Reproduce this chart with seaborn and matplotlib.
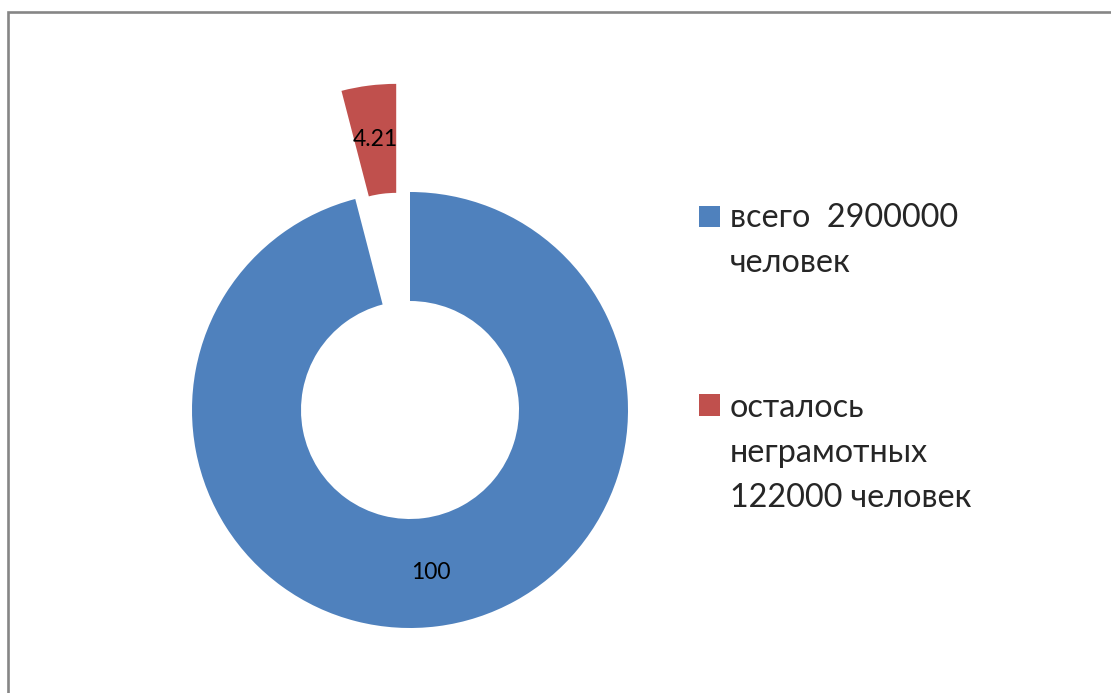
import matplotlib
matplotlib.use('Agg')
import matplotlib.pyplot as plt
import matplotlib.patches as mpatches
from matplotlib.legend_handler import HandlerPatch
import seaborn as sns

sns.set_theme(style='white')
plt.rcParams['font.family'] = ['Lato', 'DejaVu Sans']

# Data
values = [100, 4.21]
value_labels = ['100', '4.21']
legend_labels = ['всего  2900000\nчеловек',
                 'осталось\nнеграмотных\n122000 человек']
colors = ['#4F81BD', '#C0504D']
explode = [0, 0.5]

W, H = 1111, 693
fig = plt.figure(figsize=(W / 100, H / 100), dpi=100)
fig.patch.set_facecolor('white')

# frame around the chart area (right and bottom fall outside the picture)
fig.patches.append(mpatches.Rectangle((8 / W, -0.05), 1.1, (H - 12) / H + 0.05,
                                      transform=fig.transFigure, fill=False,
                                      edgecolor='#868686', linewidth=1.9))

ax = fig.add_axes([0, 0, 1, 1])
R = 218.0
cx, cy = 410.0, 410.0
lab_iter = iter(value_labels)
wedges, texts, autotexts = ax.pie(values, colors=colors, explode=explode, radius=1,
                                  startangle=90, counterclock=False,
                                  wedgeprops=dict(width=0.5, linewidth=0),
                                  autopct=lambda p: next(lab_iter), pctdistance=0.75,
                                  textprops=dict(fontsize=16.5, color='black'))
ax.set_aspect('auto')
ax.set_xlim(-cx / R, (W - cx) / R)
ax.set_ylim(-(H - cy) / R, cy / R)
ax.axis('off')

# legend: square sits on the first line of each multi-line label
line_spacing = 1.63
line_pt = 46 * 0.72 * line_spacing / 1.53
n_lines = {w: lab.count('\n') + 1 for w, lab in zip(wedges, legend_labels)}


def square_first_line(legend, orig_handle, xdescent, ydescent, width, height, fontsize):
    off = (n_lines[orig_handle] - 1) / 2 * line_pt
    return mpatches.Rectangle((-xdescent, -ydescent + off), width, height)


leg = ax.legend(wedges, legend_labels, loc='upper left',
                bbox_to_anchor=(699 / W, 1 - 203 / H), bbox_transform=fig.transFigure,
                frameon=False, fontsize=23.3, borderpad=0, borderaxespad=0,
                handlelength=0.65, handleheight=0.65, handletextpad=0.31,
                labelspacing=3.55,
                handler_map={w: HandlerPatch(patch_func=square_first_line) for w in wedges})
for t in leg.get_texts():
    t.set_linespacing(line_spacing)

fig.savefig('out.png', dpi=100, facecolor='white')
